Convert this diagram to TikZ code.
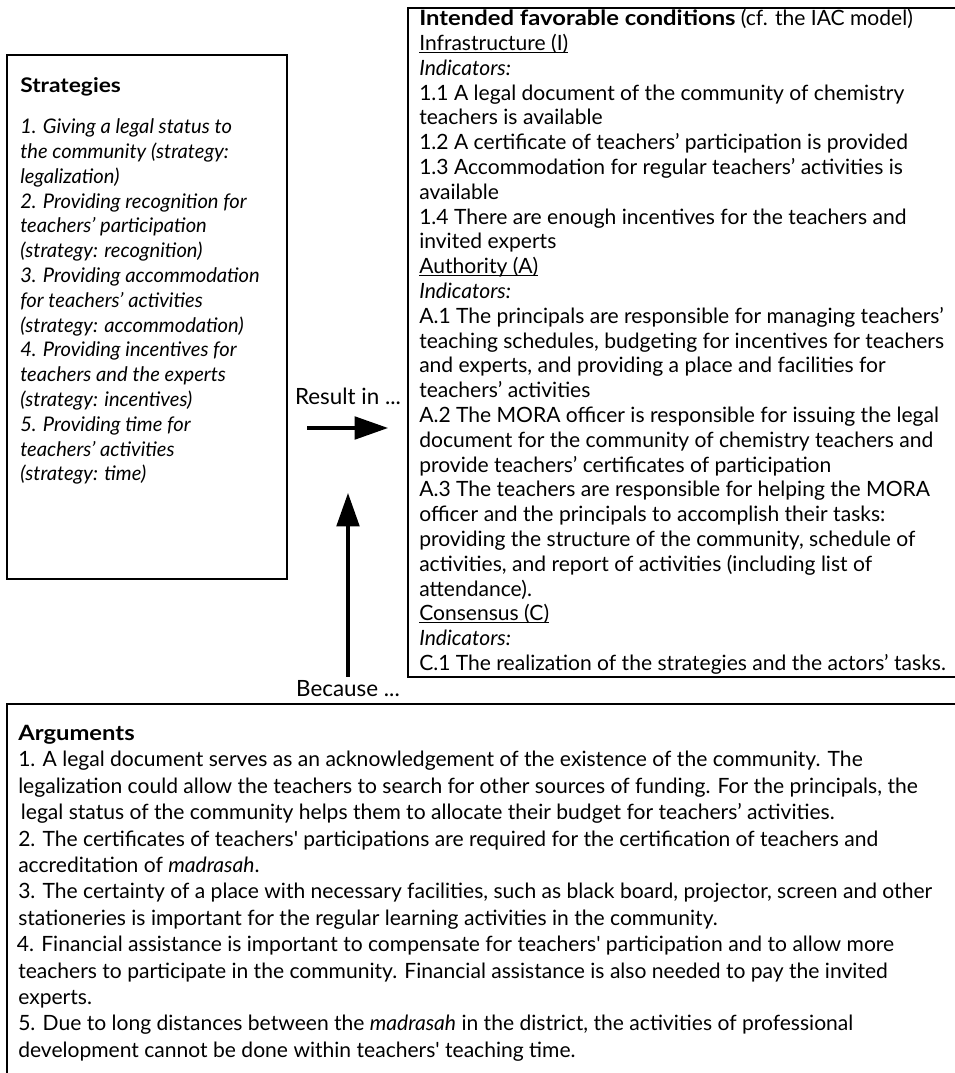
\documentclass[tikz,border=0pt]{standalone}
\usepackage{fontspec}
\setmainfont{Lato}
% wider bold face for the headings
\newfontfamily\headfont[FakeStretch=1.13]{Lato}
\usetikzlibrary{arrows.meta}
% underline sitting close to the baseline
\newcommand\uln[1]{\underline{\smash{#1}}}
\newcommand\hd[1]{{\headfont\bfseries\upshape #1}}
\begin{document}
\begin{tikzpicture}[x=0.75pt,y=-0.75pt,
  box/.style={draw, line width=1.7pt, inner sep=0pt, outer sep=0pt, anchor=north west},
  txt/.style={inner sep=0pt, align=left, anchor=north west},
  arr/.style={line width=2.3pt, -{Triangle[length=25pt,width=17pt]}},
  lbl/.style={inner sep=0pt, font=\fontsize{16.8}{18}\selectfont}]
\useasboundingbox (0,0) rectangle (955,1073);
\fill[white] (0,0) rectangle (955,1073);

% frames
\node[box, minimum width=210pt, minimum height=393pt] (strat) at (7,55) {};
\node[box, minimum width=413pt, minimum height=502pt] (cond) at (408,8) {};
\node[box, minimum width=715pt, minimum height=282pt] (args) at (7,704) {};

% strategies
\node[txt, font=\fontsize{15.1}{18.6}\selectfont\itshape] (strattxt) at (20,77) {%
\hd{Strategies}\\[12.5pt]
1. Giving a legal status to\\
the community (strategy:\\
legalization)\\
2. Providing recognition for\\
teachers’ participation\\
(strategy: recognition)\\
3. Providing accommodation\\
for teachers’ activities\\
(strategy: accommodation)\\
4. Providing incentives for\\
teachers and the experts\\
(strategy: incentives)\\
5. Providing time for\\
teachers’ activities\\
(strategy: time)};

% intended favorable conditions
\node[txt, font=\fontsize{15.8}{18.6}\selectfont] (condtxt) at (419,9) {%
\hd{Intended favorable conditions} (cf. the IAC model)\\
\uln{Infrastructure (I)}\\
\textit{Indicators:}\\
1.1 A legal document of the community of chemistry\\
teachers is available\\
1.2 A certificate of teachers’ participation is provided\\
1.3 Accommodation for regular teachers’ activities is\\
available\\
1.4 There are enough incentives for the teachers and\\
invited experts\\
\uln{Authority (A)}\\
\textit{Indicators:}\\
A.1 The principals are responsible for managing teachers’\\
teaching schedules, budgeting for incentives for teachers\\
and experts, and providing a place and facilities for\\
teachers’ activities\\
A.2 The MORA officer is responsible for issuing the legal\\
document for the community of chemistry teachers and\\
provide teachers’ certificates of participation\\
A.3 The teachers are responsible for helping the MORA\\
officer and the principals to accomplish their tasks:\\
providing the structure of the community, schedule of\\
activities, and report of activities (including list of\\
attendance).\\
\uln{Consensus (C)}\\
\textit{Indicators:}\\
C.1 The realization of the strategies and the actors’ tasks.};

% arguments
\node[txt, font=\fontsize{15.8}{19.8}\selectfont] (argtxt) at (18,725) {%
\hd{Arguments}\\
1. A legal document serves as an acknowledgement of the existence of the community. The\\
legalization could allow the teachers to search for other sources of funding. For the principals, the\\
\hspace{2pt}legal status of the community helps them to allocate their budget for teachers’ activities.\\
2. The certificates of teachers\textquotesingle{} participations are required for the certification of teachers and\\
accreditation of \textit{madrasah}.\\
3. The certainty of a place with necessary facilities, such as black board, projector, screen and other\\
stationeries is important for the regular learning activities in the community.\\
\hspace{-1pt}4. Financial assistance is important to compensate for teachers\textquotesingle{} participation and to allow more\\
teachers to participate in the community. Financial assistance is also needed to pay the invited\\
experts.\\
5. Due to long distances between the \textit{madrasah} in the district, the activities of professional\\
development cannot be done within teachers\textquotesingle{} teaching time.};

% connectors
\coordinate (rs) at (307,428);
\coordinate (re) at (388,428);
\node[lbl] (result) at (348,396) {Result in ...};
\draw[arr] (rs) -- (re);
\node[lbl] (because) at (348,689) {Because ...};
\coordinate (bt) at (348,493);
\draw[arr, shorten <=3pt] (because.north) -- (bt);
\end{tikzpicture}
\end{document}
